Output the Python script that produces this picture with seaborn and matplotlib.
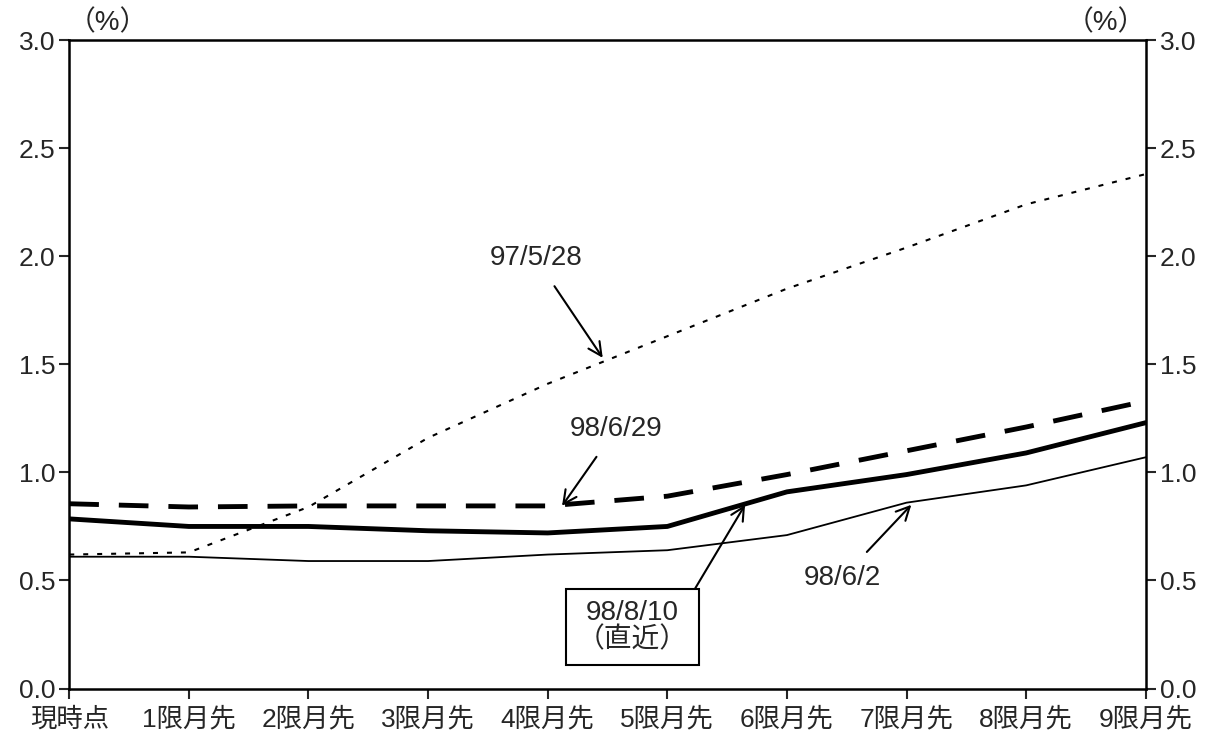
import matplotlib
matplotlib.use("Agg")
import matplotlib.pyplot as plt
import pandas as pd
import seaborn as sns

# data
categories = ['現時点', '1限月先', '2限月先', '3限月先', '4限月先',
              '5限月先', '6限月先', '7限月先', '8限月先', '9限月先']
s_970528 = [0.62, 0.63, 0.84, 1.16, 1.41, 1.63, 1.85, 2.04, 2.24, 2.38]
s_980629 = [0.855, 0.84, 0.845, 0.845, 0.845, 0.89, 0.99, 1.10, 1.21, 1.33]
s_980810 = [0.785, 0.75, 0.75, 0.73, 0.72, 0.75, 0.91, 0.99, 1.09, 1.23]
s_980602 = [0.61, 0.61, 0.59, 0.59, 0.62, 0.64, 0.71, 0.86, 0.94, 1.07]
yticks = [0.0, 0.5, 1.0, 1.5, 2.0, 2.5, 3.0]

df = pd.DataFrame({'pos': range(len(categories)),
                   '97/5/28': s_970528, '98/6/29': s_980629,
                   '98/8/10': s_980810, '98/6/2': s_980602})

sns.set_style("ticks")
plt.rcParams['font.family'] = ['Liberation Sans', 'Noto Sans CJK JP', 'DejaVu Sans']

fig, ax = plt.subplots(figsize=(12.15, 7.42), dpi=100)
fig.subplots_adjust(left=0.057, right=0.943, top=0.946, bottom=0.072)

sns.lineplot(data=df, x='pos', y='97/5/28', ax=ax, color='black', lw=1.5,
             linestyle=(0, (2.4, 4.3)))
sns.lineplot(data=df, x='pos', y='98/6/2', ax=ax, color='black', lw=1.3)
sns.lineplot(data=df, x='pos', y='98/8/10', ax=ax, color='black', lw=3.5)
sns.lineplot(data=df, x='pos', y='98/6/29', ax=ax, color='black', lw=3.5,
             linestyle=(0, (6.1, 4.1)))

ax.set_xlim(0, len(categories) - 1)
ax.set_ylim(0, 3.0)
ax.set_xticks(range(len(categories)))
ax.set_xticklabels(categories, fontsize=19)
ax.set_yticks(yticks)
ax.set_yticklabels([f'{v:.1f}' for v in yticks], fontsize=19)
ax.set_xlabel('')
ax.set_ylabel('')
ax.tick_params(axis='y', left=True, right=True, labelleft=True, labelright=True,
               direction='out', length=7, width=1.5, pad=3)
ax.tick_params(axis='x', direction='out', length=7, width=1.5, pad=6)
for sp in ax.spines.values():
    sp.set_visible(True)
    sp.set_linewidth(1.8)
    sp.set_color('black')

ax.text(0.036, 1.006, '（%）', transform=ax.transAxes, fontsize=20, ha='center', va='bottom')
ax.text(0.963, 1.006, '（%）', transform=ax.transAxes, fontsize=20, ha='center', va='bottom')

arrow = dict(arrowstyle='->', color='black', lw=1.5, mutation_scale=24)
ax.annotate('97/5/28', xy=(4.46, 1.53), xytext=(3.9, 1.99), fontsize=20,
            ha='center', va='center', arrowprops=dict(arrow, shrinkA=10, shrinkB=0))
ax.annotate('98/6/29', xy=(4.12, 0.845), xytext=(4.57, 1.2), fontsize=20,
            ha='center', va='center', arrowprops=dict(arrow, shrinkA=10, shrinkB=0))
ax.annotate('98/8/10\n（直近）', xy=(5.65, 0.85), xytext=(4.71, 0.285), fontsize=20,
            ha='center', va='center', linespacing=1.05,
            bbox=dict(boxstyle='square,pad=0.4', fc='white', ec='black', lw=1.5),
            arrowprops=dict(arrow, shrinkA=0, shrinkB=0, relpos=(1.0, 1.0)))
ax.annotate('98/6/2', xy=(7.04, 0.85), xytext=(6.46, 0.51), fontsize=20,
            ha='center', va='center', arrowprops=dict(arrow, shrinkA=10, shrinkB=0))

fig.savefig('out.png', dpi=100)
